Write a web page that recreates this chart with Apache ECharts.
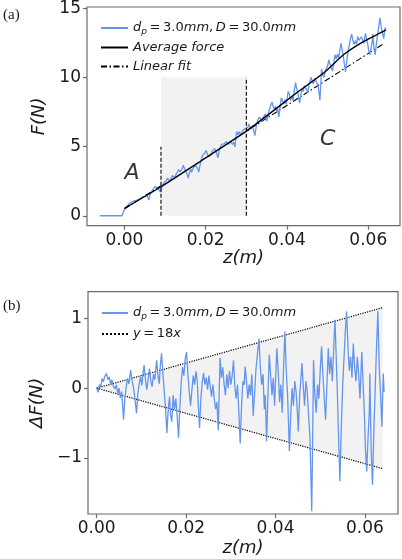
<!DOCTYPE html>
<html><head><meta charset="utf-8">
<script src="https://cdn.jsdelivr.net/npm/echarts@6/dist/echarts.min.js"></script>
<style>html,body{margin:0;padding:0;background:#fff}#c{width:402px;height:559px}</style>
</head><body><div id="c"></div>
<script>
// ---- data (z in metres) ----
const zDelta = [
0.0000,0.0003,0.0006,0.0009,0.0012,0.0015,0.0018,0.0022,0.0025,0.0028,
0.0031,0.0034,0.0037,0.0041,0.0044,0.0047,0.0050,0.0053,0.0056,0.0060,
0.0063,0.0066,0.0069,0.0072,0.0076,0.0079,0.0082,0.0085,0.0089,0.0092,
0.0095,0.0098,0.0101,0.0103,0.0106,0.0109,0.0112,0.0115,0.0118,0.0121,
0.0124,0.0127,0.0130,0.0134,0.0137,0.0140,0.0142,0.0145,0.0148,0.0151,
0.0154,0.0157,0.0160,0.0163,0.0165,0.0168,0.0171,0.0174,0.0177,0.0180,
0.0183,0.0186,0.0189,0.0192,0.0195,0.0198,0.0201,0.0204,0.0207,0.0210,
0.0213,0.0216,0.0219,0.0222,0.0225,0.0227,0.0230,0.0233,0.0236,0.0239,
0.0242,0.0245,0.0248,0.0251,0.0254,0.0257,0.0260,0.0263,0.0266,0.0269,
0.0272,0.0274,0.0276,0.0279,0.0282,0.0285,0.0288,0.0291,0.0294,0.0297,
0.0300,0.0303,0.0306,0.0309,0.0312,0.0315,0.0318,0.0321,0.0324,0.0327,
0.0330,0.0332,0.0335,0.0338,0.0341,0.0344,0.0347,0.0350,0.0353,0.0356,
0.0359,0.0363,0.0366,0.0369,0.0372,0.0375,0.0377,0.0380,0.0383,0.0386,
0.0389,0.0392,0.0395,0.0398,0.0400,0.0403,0.0406,0.0409,0.0412,0.0415,
0.0418,0.0421,0.0424,0.0427,0.0431,0.0434,0.0437,0.0440,0.0443,0.0446,
0.0449,0.0451,0.0454,0.0457,0.0459,0.0462,0.0465,0.0468,0.0471,0.0474,
0.0477,0.0481,0.0483,0.0485,0.0488,0.0491,0.0494,0.0497,0.0500,0.0503,
0.0506,0.0509,0.0512,0.0515,0.0518,0.0521,0.0524,0.0527,0.0530,0.0533,
0.0536,0.0539,0.0541,0.0544,0.0547,0.0550,0.0553,0.0556,0.0559,0.0562,
0.0565,0.0568,0.0571,0.0574,0.0577,0.0580,0.0583,0.0586,0.0589,0.0593,
0.0596,0.0599,0.0601,0.0604,0.0607,0.0610,0.0611,0.0614,0.0617,0.0620,
0.0623,0.0626,0.0629,0.0632,0.0635,0.0638,0.0641,0.0643];
const deltaF = [
0.00,-0.06,0.05,0.02,0.14,0.09,0.17,0.21,0.12,0.16,
0.06,0.12,0.03,-0.01,0.05,-0.08,0.00,-0.14,-0.05,-0.45,
-0.15,0.02,0.14,0.06,0.26,0.10,0.02,-0.12,-0.36,-0.08,
0.06,0.16,0.04,0.18,0.33,0.12,-0.02,0.12,0.28,0.10,
0.02,0.20,0.12,0.40,0.18,0.06,0.30,0.50,0.22,-0.05,
-0.30,-0.64,-0.30,-0.12,-0.38,-0.48,-0.10,-0.30,-0.15,-0.40,
-0.71,-0.28,0.08,0.30,0.18,0.42,0.52,0.20,-0.05,-0.25,
-0.02,0.18,0.05,0.24,0.10,-0.20,-0.57,-0.15,0.08,0.22,
0.05,0.15,-0.02,0.18,0.02,-0.12,0.05,-0.15,-0.30,-0.20,
-0.60,-0.05,0.43,0.15,0.30,0.05,-0.10,0.20,0.00,0.25,
0.05,0.18,0.40,0.02,-0.15,0.05,-0.35,-0.79,-0.25,0.10,
0.05,0.31,0.10,-0.15,0.05,-0.10,0.20,-0.40,-0.10,0.25,
0.45,0.71,0.30,0.05,0.20,-0.30,-0.10,-0.76,-0.10,0.48,
0.20,-0.10,0.15,-0.25,0.10,0.57,0.25,-0.20,0.05,-0.35,
0.30,0.81,0.25,-0.10,-0.90,-0.40,0.00,-0.25,0.10,-0.05,
-0.35,-0.62,-0.10,0.15,0.36,0.05,-0.25,0.10,-0.05,-0.40,
-0.70,-1.76,-0.80,0.40,-0.10,-0.35,0.05,-0.15,0.25,0.60,
0.20,-0.15,-0.45,0.05,0.57,0.20,0.45,0.10,0.55,0.98,
0.40,-0.20,-0.70,-1.33,-0.60,0.00,0.40,0.80,1.10,0.60,
0.25,0.45,0.15,0.64,0.30,0.10,0.45,0.20,-0.15,0.52,
0.05,-0.40,-0.85,-1.19,-0.70,-0.30,0.21,-0.90,-1.38,-0.60,
0.00,0.60,1.10,0.30,-0.10,-0.55,0.21,-0.05];
const forceF = [
0.45,0.52,0.68,0.71,0.88,0.88,1.01,1.12,1.09,1.18,
1.13,1.24,1.21,1.24,1.35,1.27,1.40,1.31,1.46,1.13,
1.48,1.70,1.87,1.85,2.12,2.01,1.98,1.89,1.72,2.06,
2.26,2.41,2.35,2.53,2.73,2.58,2.50,2.70,2.91,2.79,
2.77,3.00,2.98,3.34,3.17,3.11,3.39,3.65,3.42,3.21,
3.02,2.73,3.13,3.37,3.15,3.10,3.54,3.40,3.60,3.41,
3.16,3.64,4.06,4.34,4.28,4.57,4.73,4.47,4.28,4.14,
4.42,4.68,4.61,4.86,4.77,4.51,4.20,4.68,4.97,5.16,
5.05,5.21,5.10,5.36,5.25,5.17,5.40,5.26,5.17,5.32,
4.98,5.57,6.09,5.87,6.08,5.88,5.79,6.15,6.01,6.31,
6.17,6.37,6.65,6.34,6.24,6.51,6.17,5.80,6.41,6.83,
6.84,7.15,7.00,6.82,7.09,7.01,7.37,6.84,7.21,7.63,
7.89,8.24,7.90,7.72,7.93,7.50,7.75,7.15,7.88,8.53,
8.32,8.08,8.40,8.07,8.46,9.00,8.75,8.36,8.68,8.35,
9.07,9.64,9.15,8.87,8.15,8.72,9.18,9.00,9.41,9.33,
9.09,8.87,9.45,9.77,10.02,9.77,9.54,9.95,9.87,9.58,
9.35,8.37,9.38,10.62,10.19,10.01,10.49,10.37,10.85,11.28,
10.96,10.69,10.47,11.05,11.65,11.36,11.69,11.43,11.96,12.47,
11.97,11.45,10.99,10.42,11.21,11.86,12.32,12.78,13.14,12.70,
12.40,12.66,12.42,12.97,12.69,12.55,12.95,12.76,12.47,13.20,
12.77,12.37,11.95,11.65,12.19,12.64,13.16,12.10,11.66,12.49,
13.13,13.78,14.33,13.57,13.22,12.82,13.62,13.39];
const zLead = [-0.006, -0.0006];
const forceLead = [0, 0];
const avgZ = [0, 0.009, 0.019, 0.030, 0.0424, 0.049, 0.0539, 0.0588, 0.0643];
const avgF = [0.53, 2.10, 4.00, 6.12, 8.90, 10.33, 11.65, 12.60, 13.44];
const fitZ = [0, 0.0637];
const fitF = [0.49, 12.44];
const regionBZ = [0.009, 0.030];
const regionBTop = 10;
const dividerZ = [0.009, 0.030];
const dividerTop = [5, 10];
const boundZ = [0, 0.064];
const boundUpper = [0, 1.152];
const boundLower = [0, -1.152];
const xTicks = [0, 0.02, 0.04, 0.06];
const yTicksTop = [0, 5, 10, 15];
const yTicksBottom = [-1, 0, 1];
const regionNames = ['A', 'B', 'C'];
const regionNameZ = [0.0019, 0.0194, 0.050];
const regionNameF = [3.07, 6.5, 5.55];

// ---- build ----
const pair = (xs, ys) => xs.map((x, i) => [x, ys[i]]);
const blue = '#6495ED';
const axisColor = '#6b6b6b';
const font = 'DejaVu Sans';
const topBlue = pair(zLead, forceLead).concat(pair(zDelta, forceF));
const bottomBlue = pair(zDelta, deltaF);

function axisCommon(ticks, fmt) {
  return {
    axisLine: {show: false, onZero: false},
    axisTick: {show: true, inside: false, length: 4, customValues: ticks, lineStyle: {color: axisColor, width: 1.2}},
    axisLabel: {customValues: ticks, formatter: fmt, fontFamily: font, fontSize: 17, color: '#1a1a1a', margin: 6},
    splitLine: {show: false}
  };
}
const fmtX = v => Number(v).toFixed(2);
const fmtY = v => (v < 0 ? '\u2212' + Math.abs(v) : String(v));
const nameStyle = {fontFamily: font, fontSize: 18, fontStyle: 'italic', color: '#1a1a1a'};
const legendRich = {
  i: {fontFamily: font, fontStyle: 'italic', fontSize: 13, color: '#1a1a1a'},
  n: {fontFamily: font, fontSize: 13, color: '#1a1a1a'},
  s: {fontFamily: font, fontStyle: 'italic', fontSize: 9, color: '#1a1a1a', padding: [8, 0, 0, 0]}
};
const legendText = {
  dpTop: '{i|d}{s|p}{n|\u2009=\u20093.0}{i|mm}{n|,\u2009}{i|D}{n|\u2009=\u200930.0}{i|mm}',
  dpBottom: '{i|d}{s|p}{n|\u2009=\u20093.0}{i|mm}{n|,\u2009}{i|D}{n|\u2009=\u200930.0}{i|mm}',
  avg: '{i|Average force}',
  fit: '{i|Linear fit}',
  bound: '{i|y}{n|\u2009=\u200918}{i|x}'
};

const option = {
  animation: false,
  backgroundColor: '#fff',
  grid: [
    {left: 87, top: 5, width: 313, height: 220.7, show: true, borderColor: axisColor, borderWidth: 1.2, backgroundColor: 'transparent'},
    {left: 88, top: 291.7, width: 310, height: 222.3, show: true, borderColor: axisColor, borderWidth: 1.2, backgroundColor: 'transparent'}
  ],
  xAxis: [
    Object.assign({type: 'value', gridIndex: 0, min: -0.0092, max: 0.0678, name: 'z(m)', nameLocation: 'middle', nameGap: 24, nameTextStyle: nameStyle}, axisCommon(xTicks, fmtX)),
    Object.assign({type: 'value', gridIndex: 1, min: -0.00195, max: 0.0674, name: 'z(m)', nameLocation: 'middle', nameGap: 25, nameTextStyle: nameStyle}, axisCommon(xTicks, fmtX))
  ],
  yAxis: [
    Object.assign({type: 'value', gridIndex: 0, min: -0.72, max: 15.11, name: 'F(N)', nameLocation: 'middle', nameGap: 30, nameTextStyle: nameStyle}, axisCommon(yTicksTop, fmtY)),
    Object.assign({type: 'value', gridIndex: 1, min: -1.80, max: 1.38, name: '\u0394F(N)', nameLocation: 'middle', nameGap: 30, nameTextStyle: nameStyle}, axisCommon(yTicksBottom, fmtY))
  ],
  legend: [
    {orient: 'vertical', left: 95, top: 15, itemWidth: 27, itemHeight: 10, itemGap: 3,
     data: ['dpTop', 'avg', 'fit'], formatter: n => legendText[n], itemStyle: {opacity: 0},
     textStyle: {rich: legendRich, lineHeight: 16}, selectedMode: false},
    {orient: 'vertical', left: 96, top: 300, itemWidth: 26, itemHeight: 10, itemGap: 4.6,
     data: ['dpBottom', 'bound'], formatter: n => legendText[n], itemStyle: {opacity: 0},
     textStyle: {rich: legendRich, lineHeight: 16}, selectedMode: false}
  ],
  graphic: [
    {type: 'text', left: 3, top: 8, style: {text: '(a)', font: '15px "Liberation Serif", serif', fill: '#1a1a1a'}},
    {type: 'text', left: 3, top: 299, style: {text: '(b)', font: '15px "Liberation Serif", serif', fill: '#1a1a1a'}}
  ],
  series: [
    {name: 'regionB', type: 'line', xAxisIndex: 0, yAxisIndex: 0, silent: true, symbol: 'none',
     data: regionBZ.map(z => [z, regionBTop]), lineStyle: {width: 0}, areaStyle: {color: '#f2f2f2', opacity: 1, origin: 0}},
    {name: 'dpTop', type: 'line', xAxisIndex: 0, yAxisIndex: 0, symbol: 'none', data: topBlue,
     lineStyle: {color: blue, width: 1.3}, itemStyle: {color: blue}},
    {name: 'avg', type: 'line', xAxisIndex: 0, yAxisIndex: 0, symbol: 'none', data: pair(avgZ, avgF), smooth: 0.2,
     lineStyle: {color: '#000', width: 1.4}, itemStyle: {color: '#000'}},
    {name: 'fit', type: 'line', xAxisIndex: 0, yAxisIndex: 0, symbol: 'none', data: pair(fitZ, fitF), z: 1,
     lineStyle: {color: '#000', width: 1.1, type: [6, 2.5, 1.5, 2.5]}, itemStyle: {color: '#000'}},
    {name: 'div1', type: 'line', xAxisIndex: 0, yAxisIndex: 0, symbol: 'none', silent: true,
     data: [[dividerZ[0], 0], [dividerZ[0], dividerTop[0]]], lineStyle: {color: '#000', width: 1.1, type: [4, 2]}},
    {name: 'div2', type: 'line', xAxisIndex: 0, yAxisIndex: 0, symbol: 'none', silent: true,
     data: [[dividerZ[1], 0], [dividerZ[1], dividerTop[1]]], lineStyle: {color: '#000', width: 1.1, type: [4, 2]}},
    {name: 'labels', type: 'scatter', xAxisIndex: 0, yAxisIndex: 0, symbolSize: 1, silent: true,
     itemStyle: {color: 'rgba(0,0,0,0)'},
     data: regionNames.map((n, i) => [regionNameZ[i], regionNameF[i], n]),
     label: {show: true, position: 'inside', formatter: p => p.data[2], fontFamily: font, fontStyle: 'italic', fontSize: 22, color: '#000'}},
    {name: 'bound', type: 'line', xAxisIndex: 1, yAxisIndex: 1, symbol: 'none', data: pair(boundZ, boundUpper),
     lineStyle: {color: '#000', width: 1.2, type: 'dotted'}, itemStyle: {color: '#000'},
     areaStyle: {color: '#f2f2f2', opacity: 1, origin: 0}},
    {name: 'boundLow', type: 'line', xAxisIndex: 1, yAxisIndex: 1, symbol: 'none', data: pair(boundZ, boundLower),
     lineStyle: {color: '#000', width: 1.2, type: 'dotted'}, areaStyle: {color: '#f2f2f2', opacity: 1, origin: 0}},
    {name: 'dpBottom', type: 'line', xAxisIndex: 1, yAxisIndex: 1, symbol: 'none', data: bottomBlue,
     lineStyle: {color: blue, width: 1.3}, itemStyle: {color: blue}}
  ]
};
const chart = echarts.init(document.getElementById('c'), null, {renderer: 'canvas'});
chart.setOption(option);
</script></body></html>
